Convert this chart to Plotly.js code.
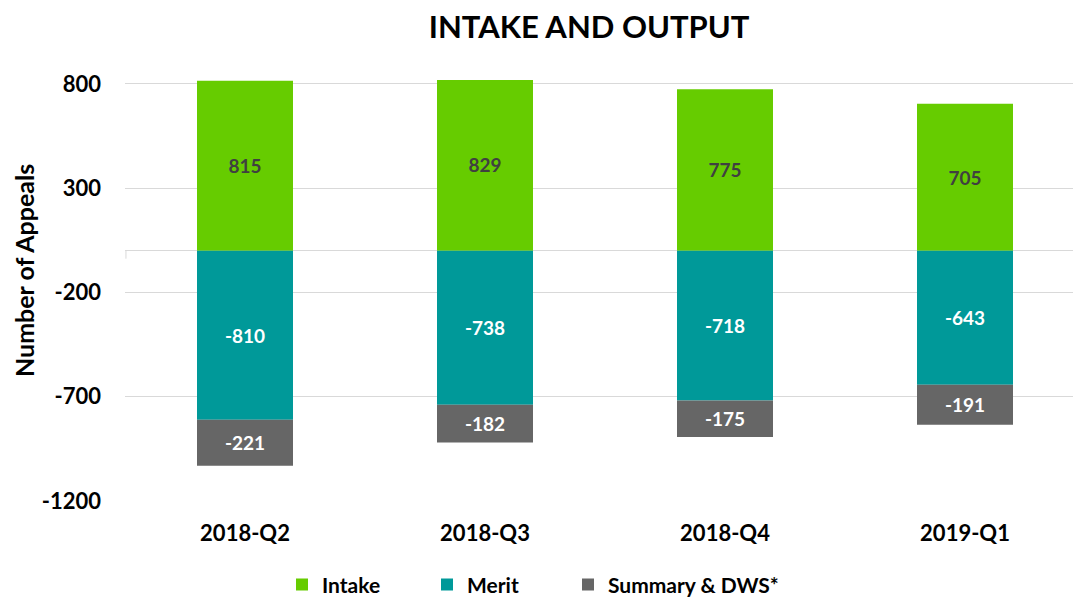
<!DOCTYPE html>
<html>
<head>
<meta charset="utf-8">
<script src="https://cdn.plot.ly/plotly-3.0.1.min.js"></script>
<style>html,body{margin:0;padding:0;background:#fff;}#chart{width:1073px;height:598px;}</style>
</head>
<body>
<div id="chart"></div>
<script>
var quarters = ["2018-Q2", "2018-Q3", "2018-Q4", "2019-Q1"];
var intake = [815, 829, 775, 705];
var merit = [-810, -738, -718, -643];
var summary = [-221, -182, -175, -191];
var yTicks = [800, 300, -200, -700, -1200];

var FONT = "Lato, 'Open Sans', sans-serif";
function bar(name, vals, color, txtColor, legendId) {
  return {
    type: "bar", name: "<b>" + name + "</b>", x: quarters, y: vals,
    legend: legendId,
    marker: {color: color, line: {width: 0}},
    width: 0.4,
    text: vals.map(String), texttemplate: "<b>%{text}</b>",
    textposition: "inside", insidetextanchor: "middle", textangle: 0,
    constraintext: "none",
    insidetextfont: {family: FONT, size: 19, color: txtColor},
    hoverinfo: "skip"
  };
}
var data = [
  bar("Intake", intake, "#66CC00", "#404040", "legend"),
  bar("Merit", merit, "#009999", "#FFFFFF", "legend2"),
  bar("Summary & DWS*", summary, "#666666", "#FFFFFF", "legend3")
];
function leg(xpx) {
  return {orientation: "h", xref: "container", yref: "container", x: xpx / 1073, y: 0.022,
          xanchor: "left", yanchor: "middle", bgcolor: "rgba(0,0,0,0)",
          font: {family: FONT, size: 21, color: "#000"}};
}
var layout = {
  width: 1073, height: 598,
  margin: {l: 125, r: 0, t: 80, b: 97},
  paper_bgcolor: "#fff", plot_bgcolor: "#fff",
  barmode: "relative",
  font: {family: FONT, color: "#000"},
  title: {text: "<b>INTAKE AND OUTPUT</b>", font: {family: FONT, size: 31, color: "#000"},
          xref: "container", x: 0.549, xanchor: "center", yref: "container", y: 0.955, yanchor: "middle"},
  xaxis: {range: [-0.5, 3.45], showgrid: false, zeroline: false, showline: false, ticks: "",
          tickfont: {family: FONT, size: 22, color: "#000"}, ticklabelstandoff: 17,
          tickvals: quarters, ticktext: quarters.map(function(q){return "<b>"+q+"</b>";})},
  yaxis: {range: [-1200, 819], tickvals: yTicks, ticktext: yTicks.map(function(v){return "<b>"+v+"</b>";}),
          showgrid: true, gridcolor: "#D9D9D9", gridwidth: 1,
          zeroline: true, zerolinecolor: "#D9D9D9", zerolinewidth: 1,
          showline: false, ticks: "", ticklabelstandoff: 23,
          tickfont: {family: FONT, size: 22, color: "#000"}},
  annotations: [{text: "<b>Number of Appeals</b>", textangle: -90, showarrow: false,
                 xref: "paper", yref: "paper", x: -101 / 948, y: (501 - 271) / (501 - 80),
                 xanchor: "center", yanchor: "middle",
                 font: {family: FONT, size: 25, color: "#000"}}],
  showlegend: true,
  legend: leg(282),
  legend2: leg(427),
  legend3: leg(568),
  shapes: [{type: "line", xref: "paper", yref: "y", x0: 0.001, x1: 0.001, y0: 0, y1: -38,
            line: {color: "#D9D9D9", width: 1}}]
};
Plotly.newPlot("chart", data, layout, {displayModeBar: false, staticPlot: true});
</script>
</body>
</html>
